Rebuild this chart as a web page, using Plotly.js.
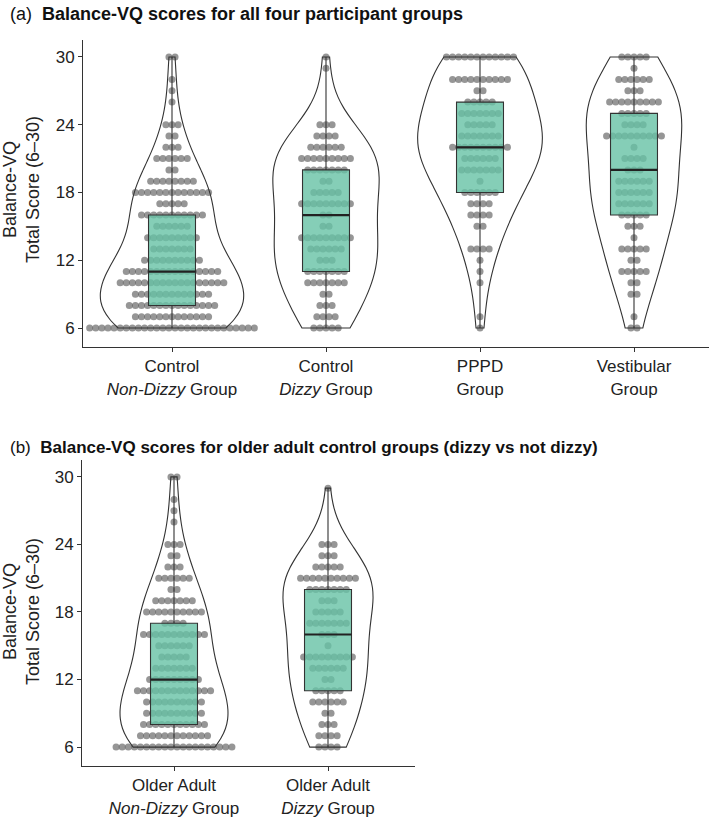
<!DOCTYPE html>
<html><head><meta charset="utf-8">
<script src="https://cdn.plot.ly/plotly-3.0.1.min.js"></script>
<style>html,body{margin:0;padding:0;background:#fff}#chart{width:709px;height:820px}</style>
</head><body><div id="chart"></div>
<script>
// ---------- DATA ----------
const scores = [6,7,8,9,10,11,12,13,14,15,16,17,18,19,20,21,22,23,24,25,26,27,28,29,30];

const groupLabelsA = ['Control<br><i>Non-Dizzy</i> Group', 'Control<br><i>Dizzy</i> Group', 'PPPD<br>Group', 'Vestibular<br>Group'];
const groupLabelsB = ['Older Adult<br><i>Non-Dizzy</i> Group', 'Older Adult<br><i>Dizzy</i> Group'];

// number of participants at each score (6..30)
const countsControlNonDizzy = [28,13,15,13,18,16,10,7,9,6,11,5,13,8,2,6,3,2,3,0,1,1,1,0,2];
const countsControlDizzy    = [5,4,3,2,7,7,3,6,9,2,2,9,5,2,7,9,6,4,3,0,0,0,0,1,1];
const countsPPPD            = [1,1,0,0,1,1,1,4,0,2,4,4,6,1,7,6,10,7,5,7,5,2,10,0,12];
const countsVestibular      = [2,1,0,2,2,5,2,5,1,3,5,6,6,6,3,4,1,10,4,5,9,3,6,1,5];
const countsOlderNonDizzy   = [20,12,11,10,10,13,9,7,5,6,11,4,10,7,2,6,3,2,3,0,1,1,1,0,2];
const countsOlderDizzy      = [4,4,3,2,6,5,2,6,9,1,3,7,5,3,7,10,5,3,3,0,0,0,0,1,0];

const titleA = '(a)  <b>Balance-VQ scores for all four participant groups</b>';
const titleB = '(b)  <b>Balance-VQ scores for older adult control groups (dizzy vs not dizzy)</b>';
const yTitle = 'Balance-VQ<br>Total Score (6–30)';
const yTicks = [6,12,18,24,30];

// ---------- STYLE ----------
const violinWidthsA = [0.93, 0.69, 0.81, 0.62];
const violinWidthsB = [0.70, 0.585];
const bwAdjust = 1.35;
const boxWidth = 0.305;
const dotStep = 0.0396;
const FONT = 'Arial, "Liberation Sans", sans-serif';
const DARK = '#333333';

function expand(counts){const v=[];counts.forEach((c,i)=>{for(let k=0;k<c;k++)v.push(scores[i]);});return v;}
function quant(s,p){const h=(s.length-1)*p;const lo=Math.floor(h);const hi=Math.min(lo+1,s.length-1);return s[lo]+(h-lo)*(s[hi]-s[lo]);}
function nrd0(v){const n=v.length;const m=v.reduce((a,b)=>a+b,0)/n;const sd=Math.sqrt(v.reduce((a,b)=>a+(b-m)*(b-m),0)/(n-1));
  const s=v.slice().sort((a,b)=>a-b);const iqr=quant(s,0.75)-quant(s,0.25);return 0.9*Math.min(sd,iqr/1.34)*Math.pow(n,-0.2);}

const traces=[];
function addGroup(counts,pos,vw,xb,yb,xo,yo){
  const vals=expand(counts);const s=vals.slice().sort((a,b)=>a-b);
  const dx=[],dy=[];
  counts.forEach((c,i)=>{for(let k=0;k<c;k++){dx.push(pos+(k-(c-1)/2)*dotStep);dy.push(scores[i]);}});
  traces.push({type:'scatter',mode:'markers',x:dx,y:dy,xaxis:xb,yaxis:yb,
    marker:{size:7,color:'rgba(80,80,80,0.6)',line:{width:0}},hoverinfo:'skip',showlegend:false});
  traces.push({type:'violin',y:vals,x0:pos,xaxis:xo,yaxis:yo,width:vw,scalemode:'width',spanmode:'hard',
    bandwidth:nrd0(vals)*bwAdjust,points:false,fillcolor:'rgba(0,0,0,0)',line:{color:DARK,width:1.1},
    box:{visible:false},meanline:{visible:false},hoverinfo:'skip',showlegend:false});
  const q1=quant(s,0.25),md=quant(s,0.5),q3=quant(s,0.75);
  traces.push({type:'box',x:[pos],q1:[q1],median:[md],q3:[q3],lowerfence:[s[0]],upperfence:[s[s.length-1]],
    width:boxWidth,whiskerwidth:0,boxpoints:false,fillcolor:'rgba(102,194,165,0.8)',
    line:{color:DARK,width:1.1},xaxis:xo,yaxis:yo,hoverinfo:'skip',showlegend:false});
  traces.push({type:'scatter',mode:'lines',x:[pos-boxWidth/2,pos+boxWidth/2],y:[md,md],xaxis:xo,yaxis:yo,
    line:{color:'#222',width:2.2},hoverinfo:'skip',showlegend:false});
}
[countsControlNonDizzy,countsControlDizzy,countsPPPD,countsVestibular].forEach((c,i)=>addGroup(c,i,violinWidthsA[i],'x','y','x3','y3'));
[countsOlderNonDizzy,countsOlderDizzy].forEach((c,i)=>addGroup(c,i,violinWidthsB[i],'x2','y2','x4','y4'));

const W=709,H=820;
const rangeAx=[(83-172)/154,(709-172)/154];
const rangeBx=[(82-174)/154,(415-174)/154];
const rangeY=[4.32,31.5];
const axisY={range:rangeY,tickvals:yTicks,ticktext:yTicks.map(String),showline:true,linecolor:DARK,linewidth:1,
  ticks:'outside',ticklen:4,tickcolor:DARK,showgrid:false,zeroline:false,
  tickfont:{family:FONT,size:17,color:'#222'},fixedrange:true};
const axisX=(range,labels)=>({type:'linear',range:range,tickvals:labels.map((_,i)=>i),ticktext:labels,showline:true,
  linecolor:DARK,linewidth:1,ticks:'outside',ticklen:4,tickcolor:DARK,showgrid:false,zeroline:false,
  tickfont:{family:FONT,size:17,color:'#222'},fixedrange:true});
const hid=(range,over,anchor)=>({type:'linear',range:range,overlaying:over,anchor:anchor,visible:false,showgrid:false,zeroline:false,fixedrange:true});

const layout={width:W,height:H,margin:{l:0,r:0,t:0,b:0},paper_bgcolor:'#fff',plot_bgcolor:'rgba(0,0,0,0)',
  showlegend:false,violinmode:'overlay',boxmode:'overlay',
  xaxis:Object.assign(axisX(rangeAx,groupLabelsA),{domain:[83/W,1],anchor:'y'}),
  yaxis:Object.assign({},axisY,{domain:[1-347/H,1-40/H],anchor:'x'}),
  xaxis2:Object.assign(axisX(rangeBx,groupLabelsB),{domain:[82/W,415/W],anchor:'y2'}),
  yaxis2:Object.assign({},axisY,{domain:[1-766/H,1-460/H],anchor:'x2'}),
  xaxis3:hid(rangeAx,'x','y3'),yaxis3:hid(rangeY,'y','x3'),
  xaxis4:hid(rangeBx,'x2','y4'),yaxis4:hid(rangeY,'y2','x4'),
  annotations:[
    {text:titleA,xref:'paper',yref:'paper',x:8/W,y:1-14/H,xanchor:'left',yanchor:'middle',showarrow:false,font:{family:FONT,size:18,color:'#111'}},
    {text:titleB,xref:'paper',yref:'paper',x:8/W,y:1-447/H,xanchor:'left',yanchor:'middle',showarrow:false,font:{family:FONT,size:17,color:'#111'}},
    {text:yTitle,xref:'paper',yref:'paper',x:21/W,y:1-190/H,xanchor:'center',yanchor:'middle',textangle:-90,showarrow:false,font:{family:FONT,size:18,color:'#222'}},
    {text:yTitle,xref:'paper',yref:'paper',x:21/W,y:1-612/H,xanchor:'center',yanchor:'middle',textangle:-90,showarrow:false,font:{family:FONT,size:18,color:'#222'}}
  ]};
Plotly.newPlot('chart',traces,layout,{displayModeBar:false,staticPlot:true});
</script></body></html>
